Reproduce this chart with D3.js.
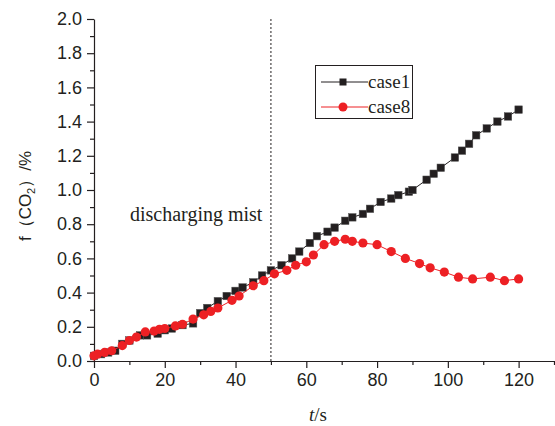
<!DOCTYPE html>
<html>
<head>
<meta charset="utf-8">
<script src="https://cdn.jsdelivr.net/npm/d3@7"></script>
<style>
  html, body { margin: 0; padding: 0; background: #fff; }
  svg { display: block; }
</style>
</head>
<body>
<svg id="chart" width="555" height="426"></svg>
<script>
// ---- data ----
const case1T = [0, 2, 4, 6, 8, 10, 13, 15, 18, 20, 22, 25, 28, 30, 32, 35, 37.5, 40, 42, 45, 47.5, 50, 53, 56, 58, 61, 63, 66, 68, 71, 73, 76, 78, 81, 84, 86, 89, 90, 94, 96, 98, 102, 104, 106, 108, 111, 114, 117, 120];
const case1V = [0.03, 0.04, 0.05, 0.06, 0.10, 0.12, 0.15, 0.15, 0.16, 0.18, 0.19, 0.21, 0.22, 0.28, 0.31, 0.35, 0.38, 0.41, 0.43, 0.46, 0.50, 0.53, 0.56, 0.60, 0.64, 0.69, 0.73, 0.756, 0.78, 0.82, 0.84, 0.86, 0.89, 0.93, 0.95, 0.97, 0.99, 1.00, 1.06, 1.095, 1.13, 1.19, 1.23, 1.27, 1.32, 1.36, 1.40, 1.43, 1.47];
const case8T = [0, 1, 3, 5, 8, 10, 12, 14.5, 17, 18.5, 20, 23, 25, 28, 31, 33, 35, 39, 41, 45, 48, 51, 54.5, 57, 60, 62, 65, 68, 71, 73, 76, 80, 84, 88, 92, 95, 99, 103, 107, 112, 116, 120];
const case8V = [0.03, 0.04, 0.05, 0.06, 0.09, 0.12, 0.14, 0.17, 0.175, 0.185, 0.19, 0.205, 0.215, 0.245, 0.27, 0.29, 0.31, 0.355, 0.38, 0.44, 0.47, 0.51, 0.53, 0.56, 0.58, 0.62, 0.68, 0.70, 0.712, 0.70, 0.69, 0.68, 0.64, 0.60, 0.57, 0.545, 0.52, 0.49, 0.48, 0.49, 0.47, 0.48];
const seriesNames = ["case1", "case8"];
const xMajorTicks = [0, 20, 40, 60, 80, 100, 120];
const xMinorTicks = [10, 30, 50, 70, 90, 110, 130];
const yMajorTicks = [0.0, 0.2, 0.4, 0.6, 0.8, 1.0, 1.2, 1.4, 1.6, 1.8, 2.0];
const yMinorTicks = [0.1, 0.3, 0.5, 0.7, 0.9, 1.1, 1.3, 1.5, 1.7, 1.9];
const markerTime = 50;
const annotation = "discharging mist";

// ---- layout ----
const svg = d3.select("#chart");
const x = d3.scaleLinear().domain([0, 130]).range([94, 554]);
const y = d3.scaleLinear().domain([0, 2]).range([361, 19]);
const ink = "#231f20";
const red = "#ed2024";
const sans = "'Liberation Sans', Arial, sans-serif";
const serif = "'Liberation Serif', 'Times New Roman', serif";

// axes
const xAxis = svg.append("g").attr("transform", `translate(0,${y(0)})`)
  .call(d3.axisBottom(x).tickValues(xMajorTicks).tickFormat(d3.format("d")).tickSize(7).tickSizeOuter(0).tickPadding(5));
const xMinor = svg.append("g").attr("transform", `translate(0,${y(0)})`)
  .call(d3.axisBottom(x).tickValues(xMinorTicks).tickFormat("").tickSize(4).tickSizeOuter(0));
const yAxis = svg.append("g").attr("transform", `translate(${x(0)},0)`)
  .call(d3.axisLeft(y).tickValues(yMajorTicks).tickFormat(d3.format(".1f")).tickSize(7).tickSizeOuter(0).tickPadding(5));
const yMinor = svg.append("g").attr("transform", `translate(${x(0)},0)`)
  .call(d3.axisLeft(y).tickValues(yMinorTicks).tickFormat("").tickSize(4).tickSizeOuter(0));
xMinor.select(".domain").remove();
yMinor.select(".domain").remove();
[xAxis, yAxis, xMinor, yMinor].forEach(g => {
  g.selectAll("path, line").attr("stroke", ink).attr("stroke-width", 1.2);
  g.selectAll("text").attr("fill", ink).style("font-family", sans).style("font-size", "18px");
});

// vertical dotted line
svg.append("line")
  .attr("x1", x(markerTime)).attr("x2", x(markerTime))
  .attr("y1", y(2)).attr("y2", y(0))
  .attr("stroke", ink).attr("stroke-width", 1).attr("stroke-dasharray", "2,2");

svg.append("text").attr("x", 130).attr("y", 221)
  .style("font-family", serif).style("font-size", "20px").attr("fill", ink)
  .text(annotation);

// series
const lineGen = d3.line().x(d => x(d[0])).y(d => y(d[1]));
const d1 = case1T.map((t, i) => [t, case1V[i]]);
const d8 = case8T.map((t, i) => [t, case8V[i]]);

svg.append("path").datum(d1).attr("d", lineGen).attr("fill", "none").attr("stroke", ink).attr("stroke-width", 1);
svg.append("g").selectAll("rect").data(d1).join("rect")
  .attr("x", d => x(d[0]) - 3.75).attr("y", d => y(d[1]) - 3.75)
  .attr("width", 7.5).attr("height", 7.5).attr("fill", ink).attr("stroke", "#555").attr("stroke-width", 0.5);

svg.append("path").datum(d8).attr("d", lineGen).attr("fill", "none").attr("stroke", red).attr("stroke-width", 1);
svg.append("g").selectAll("circle").data(d8).join("circle")
  .attr("cx", d => x(d[0])).attr("cy", d => y(d[1])).attr("r", 4.6).attr("fill", red);

// legend
const lg = svg.append("g");
lg.append("rect").attr("x", 315.5).attr("y", 65.5).attr("width", 97).attr("height", 53)
  .attr("fill", "#fff").attr("stroke", ink).attr("stroke-width", 1);
const rows = [{name: seriesNames[0], color: ink, shape: "rect", y: 82}, {name: seriesNames[1], color: red, shape: "circle", y: 107}];
rows.forEach(r => {
  lg.append("line").attr("x1", 321).attr("x2", 368).attr("y1", r.y).attr("y2", r.y).attr("stroke", r.color).attr("stroke-width", 1);
  if (r.shape === "rect") lg.append("rect").attr("x", 343 - 3.5).attr("y", r.y - 3.5).attr("width", 7).attr("height", 7).attr("fill", r.color);
  else lg.append("circle").attr("cx", 343).attr("cy", r.y).attr("r", 4.5).attr("fill", r.color);
  lg.append("text").attr("x", 368).attr("y", r.y + 6).style("font-family", serif).style("font-size", "19px").attr("fill", ink).text(r.name);
});

// axis titles
const yt = svg.append("text").attr("transform", "translate(31,196) rotate(-90)")
  .attr("text-anchor", "middle").style("font-family", sans).style("font-size", "17px").attr("fill", ink);
yt.append("tspan").text("f（CO");
yt.append("tspan").attr("dy", 4).style("font-size", "11px").text("2");
yt.append("tspan").attr("dy", -4).text("）/%");

const xt = svg.append("text").attr("x", 318).attr("y", 421).attr("text-anchor", "middle")
  .style("font-family", serif).style("font-size", "19px").attr("fill", ink);
xt.append("tspan").style("font-style", "italic").text("t");
xt.append("tspan").text("/s");
</script>
</body>
</html>
